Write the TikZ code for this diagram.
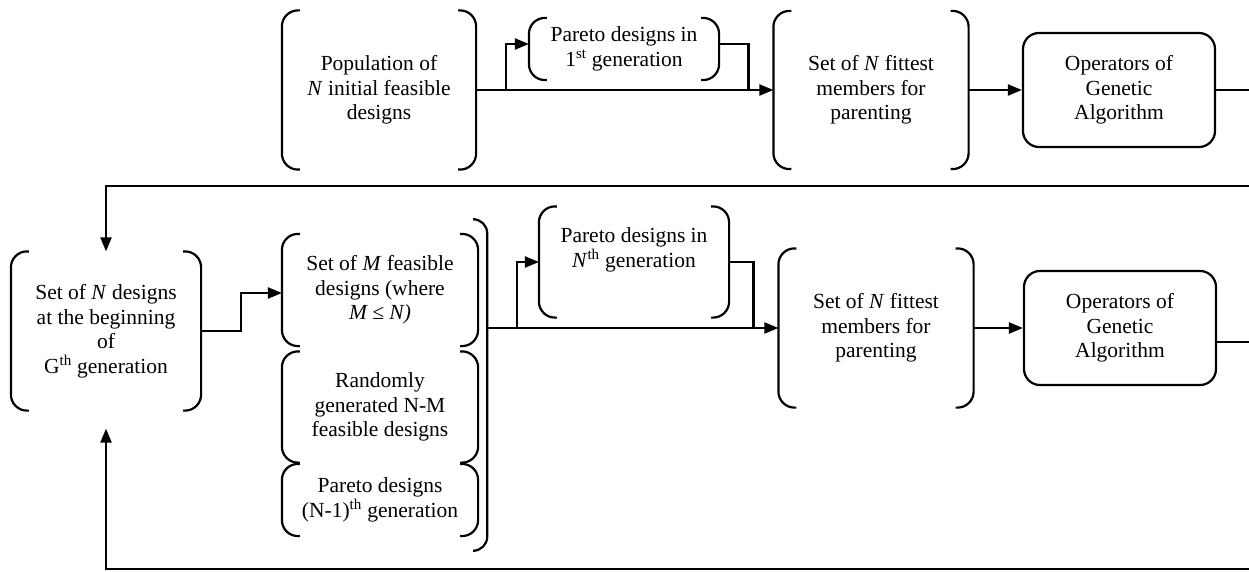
\documentclass[tikz,border=0pt]{standalone}
\usepackage{fontspec}
\setmainfont{Liberation Serif}
\usetikzlibrary{arrows.meta,fit}

% round brackets on both sides of a node
\newcommand{\drawparens}[1]{%
  \draw[rounded corners=16pt] ([xshift=18pt]#1.north west) -- (#1.north west) -- (#1.south west) -- ([xshift=18pt]#1.south west);
  \draw[rounded corners=16pt] ([xshift=-18pt]#1.north east) -- (#1.north east) -- (#1.south east) -- ([xshift=-18pt]#1.south east);}
\newcommand{\drawrightparen}[1]{%
  \draw[rounded corners=14pt] ([xshift=-12pt]#1.north east) -- (#1.north east) -- (#1.south east) -- ([xshift=-12pt]#1.south east);}

\tikzset{
  pbox/.style={inner sep=0pt, align=center},
  opsbox/.style={draw, rounded corners=16pt, inner sep=0pt, align=center,
    minimum width=192pt, minimum height=114pt},
  arr/.style={-{Triangle[length=14pt,width=11pt]}},
}

\begin{document}
\begin{tikzpicture}[x=1pt,y=-1pt,line width=2.2pt,
    every node/.append style={font=\fontsize{21.5}{24.5}\selectfont}]
\useasboundingbox (0,0) rectangle (1249,572);

% first generation
\node[pbox, minimum width=192pt, minimum height=157pt] (pop) at (379,90)
  {Population of\\\textit{N} initial feasible\\designs};
\node[pbox, minimum width=188pt, minimum height=60pt] (par1) at (624,49)
  {Pareto designs in\\1\textsuperscript{st} generation};
\node[pbox, minimum width=193pt, minimum height=156pt] (fit1) at (871,90)
  {Set of \textit{N} fittest\\members for\\parenting};
\node[opsbox] (ops1) at (1119,90) {Operators of\\Genetic\\Algorithm};
\drawparens{pop}
\drawparens{par1}
\drawparens{fit1}

% G-th generation
\node[pbox, minimum width=188pt, minimum height=157pt] (gen) at (106,331)
  {Set of \textit{N} designs\\at the beginning\\of\\G\textsuperscript{th} generation};
\node[pbox, minimum width=194pt, minimum height=110pt] (mset) at (380,290)
  {Set of \textit{M} feasible\\designs (where\\\textit{M ≤ N)}};
\node[pbox, minimum width=194pt, minimum height=109pt] (rand) at (380,407)
  {Randomly\\generated N-M\\feasible designs};
\node[pbox, minimum width=194pt, minimum height=70pt] (prev) at (380,500)
  {Pareto designs\\(N-1)\textsuperscript{th} generation};
\node[fit=(mset)(rand)(prev), inner xsep=8pt, inner ysep=13.5pt] (grp) {};
\node[pbox, minimum width=188pt, minimum height=109pt] (parN) at (634,262) {};
\node[pbox] (parNtxt) at (634,250) {Pareto designs in\\\textit{N}\textsuperscript{th} generation};
\node[pbox, minimum width=193pt, minimum height=157pt] (fit2) at (876,328)
  {Set of \textit{N} fittest\\members for\\parenting};
\node[opsbox] (ops2) at (1120,328) {Operators of\\Genetic\\Algorithm};
\drawparens{gen}
\drawparens{mset}
\drawparens{rand}
\drawparens{prev}
\drawrightparen{grp}
\drawparens{parN}
\drawparens{fit2}

% loose ends at the page edge
\coordinate (out1) at (1249,90);
\coordinate (in1) at (1249,186);
\coordinate (out2) at (1249,342);
\coordinate (in2) at (1249,569);

% connectors
\draw[arr] (pop.east) -- (fit1.west);
\draw[arr] ([xshift=30pt]pop.east) |- ([yshift=5pt]par1.west);
\draw ([yshift=5pt]par1.east) -| ([xshift=-25pt]fit1.west);
\draw[arr] (fit1.east) -- (ops1.west);
\draw (ops1.east) -- (out1);
\draw[arr] (in1) -| (gen.north);
\draw[arr] (gen.east) -- ++(40,0) |- ([yshift=-3pt]mset.west);
\draw[arr] (grp.east |- fit2.west) -- (fit2.west);
\draw[arr] ([xshift=30pt]grp.east |- fit2.west) |- (parN.west);
\draw (parN.east) -| ([xshift=-25pt]fit2.west);
\draw[arr] (fit2.east) -- (ops2.west);
\draw ([yshift=-14pt]ops2.east) -- (out2);
\draw[arr] (in2) -| ([yshift=-18pt]gen.south);
\end{tikzpicture}
\end{document}
